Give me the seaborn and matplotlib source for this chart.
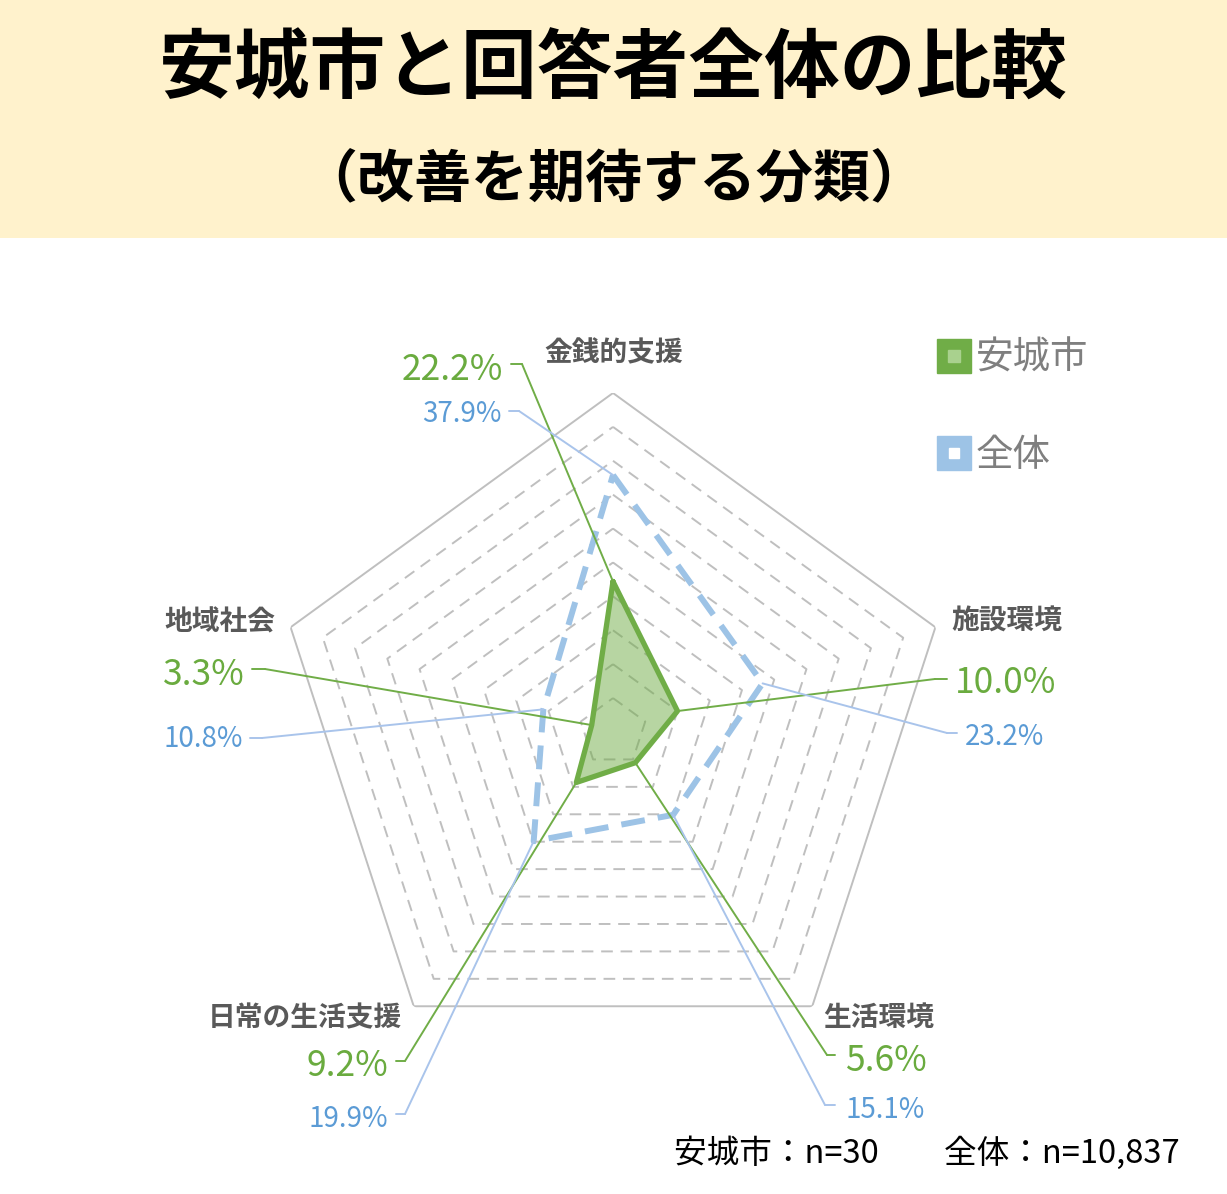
import numpy as np
import pandas as pd
import matplotlib
matplotlib.use("Agg")
import matplotlib.pyplot as plt
import seaborn as sns
from matplotlib.lines import Line2D
from matplotlib.patches import Rectangle
from matplotlib.legend_handler import HandlerTuple

# data
categories = ["金銭的支援", "施設環境", "生活環境", "日常の生活支援", "地域社会"]
anjo = [22.2, 10.0, 5.6, 9.2, 3.3]
zentai = [37.9, 23.2, 15.1, 19.9, 10.8]
rings = [5, 10, 15, 20, 25, 30, 35, 40, 45]
r_max = 50
title = "安城市と回答者全体の比較"
subtitle = "（改善を期待する分類）"
footer = "安城市：n=30　　全体：n=10,837"

GREEN = "#70AD47"
GREEN_TXT = "#6AAB3F"
BLUE = "#9DC3E6"
BLUE_TXT = "#5B9BD5"
BLUE_LEAD = "#A9C4EB"
GRID = "#BFBFBF"
LABEL = "#595959"

W, H = 1227, 1194
sns.set_theme(style="white")
plt.rcParams['font.family'] = ['Noto Sans CJK JP', 'DejaVu Sans']

fig = plt.figure(figsize=(W / 100, H / 100), dpi=100)
fig.patch.set_facecolor("white")

def fy(y):
    # top-origin pixel -> figure pixel
    return H - y

# header band
fig.patches.append(Rectangle((0, fy(238) / H), 1, 238 / H, transform=fig.transFigure,
                             facecolor="#FFF2CC", edgecolor="none", zorder=0))
fig.text(0.5, fy(70) / H, title, ha="center", va="center", fontsize=54.5,
         fontweight="bold", color="black")
fig.text(0.5, fy(180) / H, subtitle, ha="center", va="center", fontsize=41,
         fontweight="bold", color="black")

# radar axes (center 613,732 ; radius 339 px)
cx, cy, R = 613, 732, 339
ax = fig.add_axes([(cx - R) / W, (fy(cy) - R) / H, 2 * R / W, 2 * R / H], projection="polar")
ax.set_theta_zero_location("N")
ax.set_theta_direction(-1)
ax.set_facecolor("none")

n = len(categories)
angles = np.linspace(0, 2 * np.pi, n, endpoint=False)
closed = np.append(angles, angles[0])

for r in rings:
    ax.plot(closed, [r] * (n + 1), color=GRID, lw=1.4, ls=(0, (6, 4)), zorder=1)
ax.plot(closed, [r_max] * (n + 1), color=GRID, lw=1.4, zorder=1)

df_g = pd.DataFrame({"theta": closed, "val": anjo + anjo[:1]})
df_b = pd.DataFrame({"theta": closed, "val": zentai + zentai[:1]})

ax.fill(df_g["theta"], df_g["val"], color=GREEN, alpha=0.5, lw=0, zorder=3)
sns.lineplot(data=df_g, x="theta", y="val", sort=False, estimator=None, ax=ax,
             color=GREEN, lw=3.8, zorder=5, legend=False)
sns.lineplot(data=df_b, x="theta", y="val", sort=False, estimator=None, ax=ax,
             color=BLUE, lw=4.3, ls=(0, (4, 2.2)), zorder=4, legend=False)
ax.set_xlabel("")
ax.set_ylabel("")
ax.set_xticks([])
ax.set_yticks([])
ax.set_ylim(0, r_max)
ax.grid(False)
ax.spines["polar"].set_visible(False)

# category labels (layout, top-origin px)
cat_pos = [(614, 353), (1007, 622), (879, 1018), (305, 1018), (220, 622)]
for name, (x, y) in zip(categories, cat_pos):
    fig.text(x / W, fy(y) / H, name, ha="center", va="center", fontsize=20,
             fontweight="bold", color=LABEL)

# value labels with leader lines: (text x, text y, ha, stub x0, stub x1, stub y)
green_lab = [(503, 370, "right", 511, 522, 364),
             (955, 683, "left", 947, 935, 679),
             (845, 1061, "left", 835, 827, 1055),
             (388, 1066, "right", 396, 405, 1061),
             (245, 675, "right", 252, 265, 669)]
blue_lab = [(502, 414, "right", 509, 519, 411),
            (965, 737, "left", 957, 947, 733),
            (845, 1110, "left", 835, 825, 1105),
            (388, 1119, "right", 396, 405, 1114),
            (243, 739, "right", 250, 262, 738)]

def leaders(vals, labs, tcol, lcol, fs):
    for th, v, (tx, ty, ha, s0, s1, sy) in zip(angles, vals, labs):
        fig.text(tx / W, fy(ty) / H, f"{v:.1f}%", ha=ha, va="center",
                 fontsize=fs, color=tcol)
        fig.add_artist(Line2D([s0 / W, s1 / W], [fy(sy) / H, fy(sy) / H],
                              transform=fig.transFigure, color=lcol, lw=1.4))
        ax.annotate("", xy=(th, v), xycoords="data",
                    xytext=(s1, fy(sy)), textcoords="figure pixels",
                    arrowprops=dict(arrowstyle="-", color=lcol, lw=1.4,
                                    shrinkA=0, shrinkB=0), zorder=6)

leaders(anjo, green_lab, GREEN_TXT, GREEN, 25.5)
leaders(zentai, blue_lab, BLUE_TXT, BLUE_LEAD, 20)

# legend
h_g = (Line2D([], [], marker="s", ms=25, color=GREEN, ls=""),
       Line2D([], [], marker="s", ms=8, color="#A9D18E", ls=""))
h_b = (Line2D([], [], marker="s", ms=25, color=BLUE, ls=""),
       Line2D([], [], marker="s", ms=7, color="white", ls=""))
leg = fig.legend([h_g, h_b], ["安城市", "全体"], loc="upper left",
                 bbox_to_anchor=(901 / W, fy(305) / H), frameon=False,
                 handler_map={tuple: HandlerTuple(ndivide=1, pad=0)},
                 fontsize=27, labelspacing=1.55, handlelength=1.0,
                 handletextpad=0.1, labelcolor="#7F7F7F")

fig.text(1180 / W, fy(1153) / H, footer, ha="right", va="center", fontsize=23.5,
         color="black")

fig.savefig("out.png", dpi=100)
